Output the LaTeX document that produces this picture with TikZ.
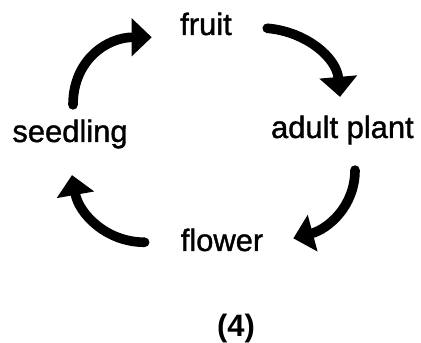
\documentclass[tikz,border=0pt]{standalone}
\usepackage{fontspec}
\setmainfont{Liberation Sans}
\newfontfamily\stagefont{Liberation Sans}[BoldFont=Liberation Sans,BoldFeatures={FakeBold=1.2}]
\usepackage{tikz}
\usetikzlibrary{arrows.meta}

\begin{document}
\begin{tikzpicture}[
  stage/.style={font=\fontsize{22}{26}\selectfont\stagefont\bfseries, anchor=base, inner sep=0pt},
  cyclearrow/.style={line width=0.24cm, line cap=round, -{Triangle[width=0.92cm,length=0.5cm]}}
]
\useasboundingbox (0,0) rectangle (10.525,8.575);

% Stages of the cycle
\node[stage] (fruit) at (5.15,7.7) {fruit};
\node[stage] (adult) at (8.56,5.125) {adult plant};
\node[stage] (flower) at (5.55,2.3) {flower};
\node[stage] (seedling) at (1.75,5.025) {seedling};

% Figure number
\node[stage, font=\fontsize{22}{26}\selectfont\bfseries] (num) at (5.9,0.15) {(4)};

% Arrows round the cycle
\draw[cyclearrow] ([shift={(0.075,0.36)}]seedling.north) to[out=90,in=180,looseness=1.1] ([shift={(-0.705,-0.333)}]fruit.west);
\draw[cyclearrow] ([shift={(0.88,-0.108)}]fruit.east) to[out=-5,in=95] ([shift={(-0.06,0.46)}]adult.north);
\draw[cyclearrow] ([shift={(0.315,-0.635)}]adult.south) to[out=-90,in=15] ([shift={(0.745,0.04)}]flower.east);
\draw[cyclearrow] ([shift={(-0.895,-0.058)}]flower.west) to[out=180,in=-80] ([shift={(0.05,-0.66)}]seedling.south);

\end{tikzpicture}
\end{document}
